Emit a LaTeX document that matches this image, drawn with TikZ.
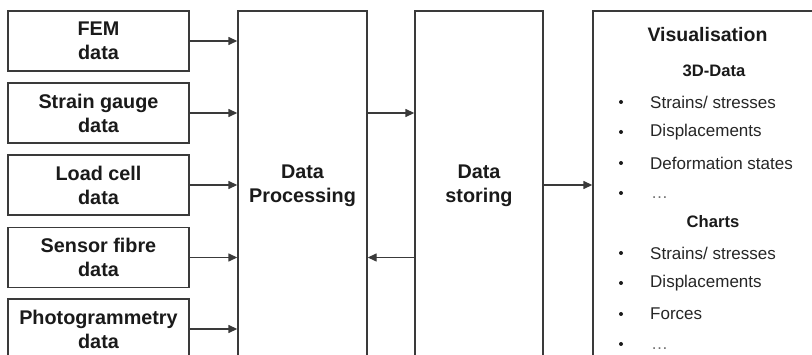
\documentclass[tikz,border=0pt]{standalone}
\usepackage{fontspec}
\setmainfont{Liberation Sans}
\usetikzlibrary{arrows.meta}
\definecolor{boxline}{HTML}{3A3A3A}
\definecolor{ink}{HTML}{1A1A1A}
\definecolor{itemink}{HTML}{262626}
\definecolor{ellink}{HTML}{707070}
\begin{document}
\begin{tikzpicture}[x=1pt,y=-1pt,
  box/.style={draw=boxline, line width=1.4pt, fill=white, align=center,
    text=ink, inner sep=0pt},
  srcbox/.style={box, minimum width=181pt, minimum height=60pt,
    font=\bfseries\fontsize{19.8}{24}\selectfont},
  bigbox/.style={box, minimum height=350pt,
    font=\bfseries\fontsize{19.8}{24}\selectfont},
  arr/.style={draw=boxline, line width=1.4pt, -{Triangle[length=9pt,width=8pt]}},
  head/.style={text=ink, inner sep=0pt, font=\bfseries\fontsize{16.6}{20}\selectfont},
  item/.style={text=itemink, anchor=west, inner sep=0pt, font=\fontsize{17}{20}\selectfont},
  dot/.style={circle, fill=ink, inner sep=0pt, minimum size=4pt}]
\useasboundingbox (0,0) rectangle (812,355);
\clip (0,0) rectangle (812,355);

% data sources
\node[srcbox] (fem) at (98.5,41)  {FEM\\data};
\node[srcbox] (sg)  at (98.5,113) {Strain gauge\\data};
\node[srcbox] (lc)  at (98.5,185) {Load cell\\data};
\node[srcbox] (sf)  at (98.5,257.5) {Sensor fibre\\data};
\node[srcbox] (pg)  at (98.5,329) {Photogrammetry\\data};

% processing, storage and visualisation blocks
\node[bigbox, minimum width=129pt] (dp)  at (302.5,186) {Data\\Processing};
\node[bigbox, minimum width=128pt] (ds)  at (479,186)   {Data\\storing};
\node[bigbox, minimum width=229pt] (vis) at (707.5,186) {};

% inputs
\foreach \s in {fem,sg,lc,sf,pg}
  \draw[arr] (\s.east) -- (\s.east -| dp.west);

% exchange between blocks
\draw[arr] (dp.east |- sg.east) -- (ds.west |- sg.east);
\draw[arr] (ds.west |- sf.east) -- (dp.east |- sf.east);
\draw[arr] (ds.east |- lc.east) -- (vis.west |- lc.east);

% visualisation contents
\node[text=ink, inner sep=0pt, font=\bfseries\fontsize{19.5}{22}\selectfont]
  (vtitle) at (707.5,35) {Visualisation};
\node[head] (h3d) at (714,71) {3D-Data};
\node[head] (hch) at (713,222) {Charts};

\foreach \y/\t [count=\i] in {102/{Strains/ stresses},132/{Displacements},
    163/{Deformation states},253/{Strains/ stresses},283/{Displacements},314/{Forces}} {
  \node[dot] (b\i) at (621,\y) {};
  \node[item] (t\i) at (650,\y) {\t};
}
\node[dot] (b7) at (621,193) {};
\node[item, text=ellink, anchor=base west] (t7) at (651,199) {…};
\node[dot] (b8) at (621,344) {};
\node[item, text=ellink, anchor=base west] (t8) at (651,350) {…};
\end{tikzpicture}
\end{document}
